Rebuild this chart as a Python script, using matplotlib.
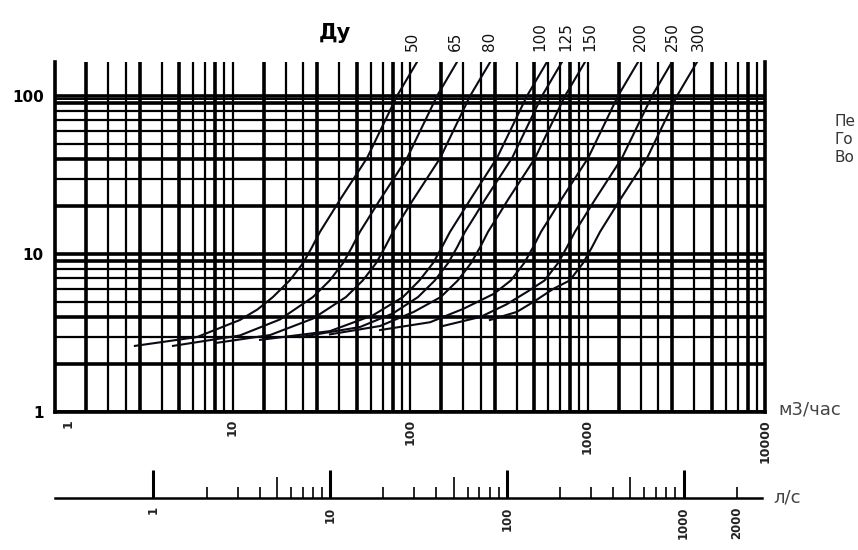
import matplotlib
matplotlib.use('Agg')
import matplotlib.pyplot as plt
from matplotlib.transforms import ScaledTranslation

# Ду curves: flow (m3/h) and head loss
du_names = ['50', '65', '80', '100', '125', '150', '200', '250', '300']
du_label_q = [103, 179, 282, 540, 757, 1033, 1976, 2992, 4194]

q_du50 = [2.82, 6.31, 11.0, 13.8, 16.9, 21.0, 25.0, 28.0, 31.1, 35.5, 40.3, 57.3, 84.5, 109.5]
h_du50 = [2.62, 2.98, 3.82, 4.45, 5.34, 6.8, 8.77, 11.0, 13.8, 17.5, 22.0, 40.5, 100, 164]
q_du65 = [4.62, 11.0, 18.5, 28.4, 35.3, 42.0, 47.0, 52.2, 59.6, 67.7, 96.3, 142, 184]
h_du65 = [2.62, 3.05, 3.85, 5.34, 6.8, 8.77, 11.0, 13.8, 17.5, 22.0, 40.5, 100, 164]
q_du80 = [7.97, 16.3, 28.4, 43.6, 54.2, 64.5, 72.2, 80.2, 91.6, 104, 148, 218, 283]
h_du80 = [2.73, 3.07, 3.90, 5.34, 6.8, 8.77, 11.0, 13.8, 17.5, 22.0, 40.5, 100, 164]
q_du100 = [14.3, 35.4, 62, 91.3, 113, 135, 151, 168, 192, 218, 309, 456, 591]
h_du100 = [2.86, 3.25, 4.10, 5.34, 6.8, 8.77, 11.0, 13.8, 17.5, 22.0, 40.5, 100, 164]
q_du125 = [24.0, 52.3, 80, 111, 138, 164, 184, 204, 233, 264, 376, 554, 718]
h_du125 = [2.98, 3.45, 4.20, 5.34, 6.8, 8.77, 11.0, 13.8, 17.5, 22.0, 40.5, 100, 164]
q_du150 = [35.4, 67.8, 105, 149, 186, 221, 248, 275, 314, 356, 507, 747, 968]
h_du150 = [3.10, 3.50, 4.30, 5.34, 6.8, 8.77, 11.0, 13.8, 17.5, 22.0, 40.5, 100, 164]
q_du200 = [67.8, 130, 200, 297, 370, 440, 493, 547, 625, 709, 1008, 1485, 1927]
h_du200 = [3.30, 3.70, 4.50, 5.60, 6.8, 8.77, 11.0, 13.8, 17.5, 22.0, 40.5, 100, 164]
q_du250 = [153, 250, 350, 461, 573, 683, 764, 849, 969, 1100, 1564, 2309, 2990]
h_du250 = [3.50, 4.00, 4.80, 5.80, 6.8, 8.77, 11.0, 13.8, 17.5, 22.0, 40.5, 100, 164]
q_du300 = [282, 400, 500, 639, 794, 945, 1058, 1176, 1342, 1523, 2166, 3193, 4139]
h_du300 = [3.82, 4.30, 5.00, 6.00, 6.8, 8.77, 11.0, 13.8, 17.5, 22.0, 40.5, 100, 164]

curves_q = [q_du50, q_du65, q_du80, q_du100, q_du125, q_du150, q_du200, q_du250, q_du300]
curves_h = [h_du50, h_du65, h_du80, h_du100, h_du125, h_du150, h_du200, h_du250, h_du300]

# axis labels
x_ticks = [1, 10, 100, 1000, 10000]
y_ticks = [1, 10, 100]
ls_major = [1, 10, 100, 1000]
ls_minor = [2, 3, 4, 5, 6, 7, 8, 9, 20, 30, 40, 50, 60, 70, 80, 90,
            200, 300, 400, 500, 600, 700, 800, 900, 2000]
ls_per_m3h = 1 / 3.6

grid_mult_x = [1, 1.5, 2, 2.5, 3, 4, 5, 6, 7, 8, 9]
bold_mult_x = [1.5, 3, 5, 8]
grid_mult_y = [1, 2, 3, 4, 5, 6, 7, 8, 9]
bold_mult_y = [1, 2, 4, 9]

fig = plt.figure(figsize=(8.58, 5.5), dpi=100)
ax = fig.add_axes([55 / 858, 1 - 412 / 550, 710 / 858, 350 / 550])
ax.set_xscale('log')
ax.set_yscale('log')
ax.set_xlim(1, 10000)
ax.set_ylim(1, 164)

# сетка
for dec in [1, 10, 100, 1000]:
    for m in grid_mult_x:
        lw = 2.6 if m in bold_mult_x else 1.6
        ax.axvline(m * dec, color='black', lw=lw, zorder=1)
for dec in [1, 10]:
    for m in grid_mult_y:
        lw = 2.6 if m in bold_mult_y else 1.6
        ax.axhline(m * dec, color='black', lw=lw, zorder=1)
ax.axhline(100, color='black', lw=2.6, zorder=1)
ax.axhline(95, color='black', lw=1.4, zorder=1)

for q, h in zip(curves_q, curves_h):
    ax.plot(q, h, color='#0a0a14', lw=1.5, zorder=3)

for name, q in zip(du_names, du_label_q):
    ax.annotate(name, xy=(q, 1), xycoords=('data', 'axes fraction'),
                xytext=(0, 8), textcoords='offset points',
                rotation=90, ha='center', va='bottom', fontsize=11, color='#111')

fig.text(335 / 858, 1 - 33 / 550, 'Ду', fontsize=15, fontweight='bold',
         ha='center', va='center')

ax.spines['top'].set_visible(False)
for s in ['left', 'bottom', 'right']:
    ax.spines[s].set_linewidth(2.6)
ax.set_xticks(x_ticks, [str(v) for v in x_ticks])
ax.set_yticks(y_ticks, [str(v) for v in y_ticks])
ax.minorticks_off()
ax.tick_params(axis='x', length=0, pad=5, labelrotation=90, labelsize=9)
ax.tick_params(axis='y', length=0, pad=8, labelsize=11)
for lbl in ax.get_xticklabels():
    lbl.set_fontweight('bold')
    lbl.set_color('#222')
for lbl in ax.get_yticklabels():
    lbl.set_fontweight('bold')
first = ax.get_xticklabels()[0]
first.set_transform(first.get_transform() + ScaledTranslation(0.13, 0, fig.dpi_scale_trans))

fig.text(778 / 858, 1 - 410 / 550, 'м3/час', fontsize=13, color='#444',
         ha='left', va='center')

# шкала л/с
ax2 = fig.add_axes([55 / 858, 1 - 498 / 550, 707 / 858, 0.06])
ax2.set_xscale('log')
ax2.set_xlim(1 * ls_per_m3h, 10000 * ls_per_m3h)
ax2.set_ylim(0, 1)
for s in ['left', 'right', 'top']:
    ax2.spines[s].set_visible(False)
ax2.spines['bottom'].set_linewidth(1.8)
ax2.set_facecolor('none')
ax2.set_yticks([])
ax2.set_xticks(ls_major, [str(v) for v in ls_major])
ax2.set_xticks(ls_minor, ['2000' if v == 2000 else '' for v in ls_minor], minor=True)
ax2.tick_params(axis='x', which='major', direction='in', length=20, width=2.2,
                pad=6, labelrotation=90, labelsize=8.5)
ax2.tick_params(axis='x', which='minor', direction='in', length=8, width=1.2,
                pad=6, labelrotation=90, labelsize=8.5)
for t, loc in zip(ax2.xaxis.get_minor_ticks(), ls_minor):
    if str(loc)[0] == '5':
        t.tick1line.set_markersize(15)
for lbl in ax2.get_xticklabels(which='both'):
    lbl.set_fontweight('bold')
    lbl.set_color('#222')

fig.text(773 / 858, 1 - 497 / 550, 'л/с', fontsize=13, color='#444',
         ha='left', va='center')

for i, word in enumerate(['Пе', 'Го', 'Во']):
    fig.text(835 / 858, 1 - (122 + 17.5 * i) / 550, word, fontsize=11,
             color='#333', ha='left', va='center')

fig.savefig('out.png', dpi=100)
